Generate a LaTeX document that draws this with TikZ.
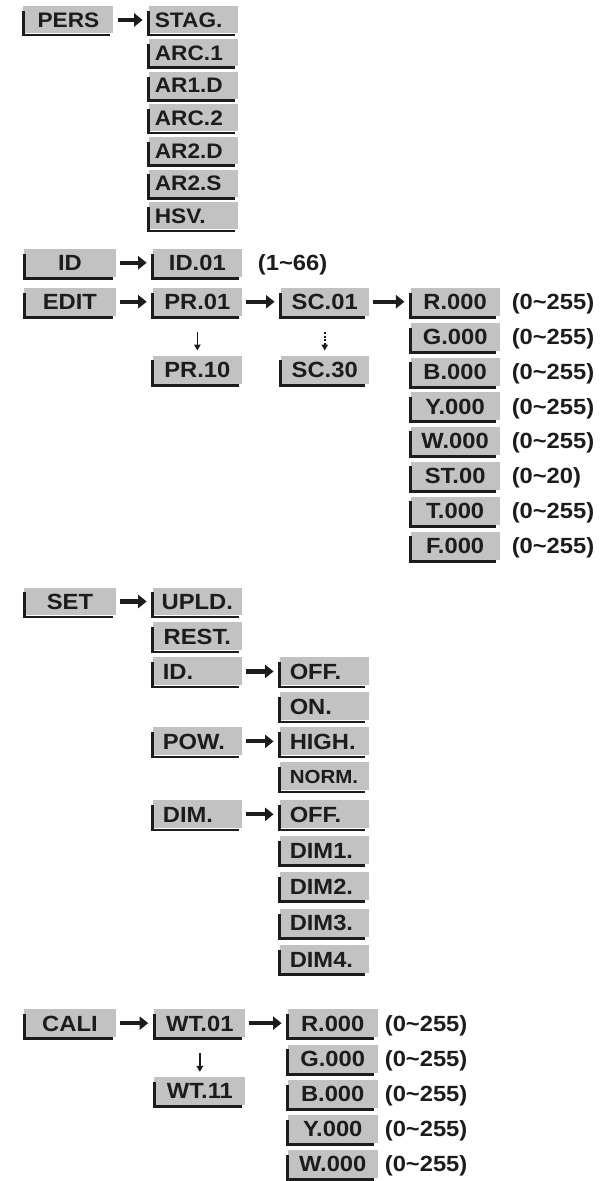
\documentclass[tikz,border=0pt]{standalone}
\usepackage{fontspec}
\setmainfont{Liberation Sans}[FakeStretch=1.08]
\usetikzlibrary{arrows.meta}
\definecolor{boxgray}{RGB}{194,194,194}
\definecolor{ink}{RGB}{28,28,28}
\begin{document}
\begin{tikzpicture}[x=1pt,y=-1pt,
  box/.style={fill=boxgray, minimum height=28pt, inner ysep=0pt, inner xsep=0pt,
    text height=15.8pt, text depth=0pt, text=ink, anchor=center,
    font=\bfseries\fontsize{22}{22}\selectfont},
  sbox/.style={box, minimum height=27pt, text height=15pt, font=\bfseries\fontsize{21}{21}\selectfont},
  cbox/.style={box, minimum width=#1},
  lbox/.style={box, text width=#1-20pt, inner xsep=10pt},
  slbox/.style={sbox, text width=#1-12pt, inner xsep=6pt},
  rng/.style={anchor=west, inner sep=0pt, text height=15.8pt, text depth=0pt, text=ink,
    font=\bfseries\fontsize{22}{22}\selectfont},
  harrow/.style={draw=ink, line width=4.2pt, -{Triangle[length=8.5pt,width=13pt]},
    shorten <=4pt, shorten >=6pt},
  darrow/.style={draw=ink, line width=1.6pt, -{Triangle[length=6pt,width=6.5pt]},
    shorten <=16pt, shorten >=5pt},
  dotarrow/.style={darrow, dash pattern=on 2pt off 1.6pt},
  bar/.style={fill=ink}
]
\fill[white] (0,0) rectangle (602,1181);

% ---------- PERS ----------
\node[sbox, minimum width=90pt] (pers) at (68.5,20) {PERS};
\node[slbox=89pt] (stag) at (193.5,20) {STAG.};
\node[slbox=89pt] (arc1) at (193.5,52.7) {ARC.1};
\node[slbox=89pt] (ar1d) at (193.5,85.3) {AR1.D};
\node[slbox=89pt] (arc2) at (193.5,118) {ARC.2};
\node[slbox=89pt] (ar2d) at (193.5,150.7) {AR2.D};
\node[slbox=89pt] (ar2s) at (193.5,183.3) {AR2.S};
\node[slbox=89pt] (hsv) at (193.5,216) {HSV.};
\draw[harrow] (pers) -- (stag);

% ---------- ID / EDIT ----------
\node[cbox=92pt] (id) at (70,263) {ID};
\node[cbox=89pt] (id01) at (197.5,263) {ID.01};
\node[rng] (r166) at (258,263) {(1\textasciitilde66)};
\draw[harrow] (id) -- (id01);

\node[cbox=92pt] (edit) at (70,302) {EDIT};
\node[cbox=89pt] (pr01) at (197.5,302) {PR.01};
\node[cbox=89pt] (pr10) at (197.5,370) {PR.10};
\node[cbox=88pt] (sc01) at (325,302) {SC.01};
\node[cbox=88pt] (sc30) at (325,370) {SC.30};
\draw[harrow] (edit) -- (pr01);
\draw[harrow] (pr01) -- (sc01);
\draw[darrow] (pr01) -- (pr10);
\draw[dotarrow] (sc01) -- (sc30);

\node[cbox=89pt] (er) at (455.5,302) {R.000};
\node[cbox=89pt] (eg) at (455.5,337) {G.000};
\node[cbox=89pt] (eb) at (455.5,372) {B.000};
\node[cbox=89pt] (ey) at (455.5,406.5) {Y.000};
\node[cbox=89pt] (ew) at (455.5,441) {W.000};
\node[cbox=89pt] (est) at (455.5,476) {ST.00};
\node[cbox=89pt] (et) at (455.5,511) {T.000};
\node[cbox=89pt] (ef) at (455.5,546) {F.000};
\draw[harrow] (sc01) -- (er);
\node[rng] (rer) at (512,302) {(0\textasciitilde255)};
\node[rng] (reg) at (512,337) {(0\textasciitilde255)};
\node[rng] (reb) at (512,372) {(0\textasciitilde255)};
\node[rng] (rey) at (512,406.5) {(0\textasciitilde255)};
\node[rng] (rew) at (512,441) {(0\textasciitilde255)};
\node[rng] (rest) at (512,476) {(0\textasciitilde20)};
\node[rng] (ret) at (512,511) {(0\textasciitilde255)};
\node[rng] (ref) at (512,546) {(0\textasciitilde255)};

% ---------- SET ----------
\node[cbox=92pt] (set) at (70,602) {SET};
\node[cbox=89pt] (upld) at (197.5,602) {UPLD.};
\node[cbox=89pt] (restn) at (197.5,637) {REST.};
\node[lbox=89pt] (idd) at (197.5,672) {ID.};
\node[lbox=89pt] (pow) at (197.5,742) {POW.};
\node[lbox=89pt] (dim) at (197.5,815) {DIM.};
\draw[harrow] (set) -- (upld);
\node[lbox=89pt] (off1) at (324.5,672) {OFF.};
\node[lbox=89pt] (on) at (324.5,707) {ON.};
\node[lbox=89pt] (high) at (324.5,742) {HIGH.};
\node[lbox=89pt, font=\bfseries\fontsize{19}{19}\selectfont, text height=13.7pt] (norm) at (324.5,777) {NORM.};
\node[lbox=89pt] (off2) at (324.5,815) {OFF.};
\node[lbox=89pt] (dim1) at (324.5,851) {DIM1.};
\node[lbox=89pt] (dim2) at (324.5,887) {DIM2.};
\node[lbox=89pt] (dim3) at (324.5,923.5) {DIM3.};
\node[lbox=89pt] (dim4) at (324.5,960) {DIM4.};
\draw[harrow] (idd) -- (off1);
\draw[harrow] (pow) -- (high);
\draw[harrow] (dim) -- (off2);

% ---------- CALI ----------
\node[cbox=92pt] (cali) at (70,1024) {CALI};
\node[cbox=91pt] (wt01) at (200,1024) {WT.01};
\node[cbox=91pt] (wt11) at (200,1092) {WT.11};
\draw[harrow] (cali) -- (wt01);
\draw[darrow] (wt01) -- (wt11);
\node[cbox=90pt] (cr) at (333,1024) {R.000};
\node[cbox=90pt] (cg) at (333,1059.5) {G.000};
\node[cbox=90pt] (cb) at (333,1095) {B.000};
\node[cbox=90pt] (cy) at (333,1130) {Y.000};
\node[cbox=90pt] (cw) at (333,1165) {W.000};
\draw[harrow] (wt01) -- (cr);
\node[rng] (rcr) at (385,1024) {(0\textasciitilde255)};
\node[rng] (rcg) at (385,1059.5) {(0\textasciitilde255)};
\node[rng] (rcb) at (385,1095) {(0\textasciitilde255)};
\node[rng] (rcy) at (385,1130) {(0\textasciitilde255)};
\node[rng] (rcw) at (385,1165) {(0\textasciitilde255)};

% ---------- L-shaped dark edges ----------
\foreach \n in {pers,stag,arc1,ar1d,arc2,ar2d,ar2s,hsv,id,id01,edit,pr01,pr10,sc01,sc30,
  er,eg,eb,ey,ew,est,et,ef,set,upld,restn,idd,pow,dim,off1,on,high,norm,off2,
  dim1,dim2,dim3,dim4,cali,wt01,wt11,cr,cg,cb,cy,cw}{
  \fill[bar] ([xshift=-1.2pt,yshift=-5pt]\n.north west) rectangle ([xshift=1.8pt,yshift=-2.8pt]\n.south west);
  \fill[bar] ([xshift=-1.2pt]\n.south west) rectangle ([xshift=-3.5pt,yshift=-2.8pt]\n.south east);
}
\end{tikzpicture}
\end{document}
